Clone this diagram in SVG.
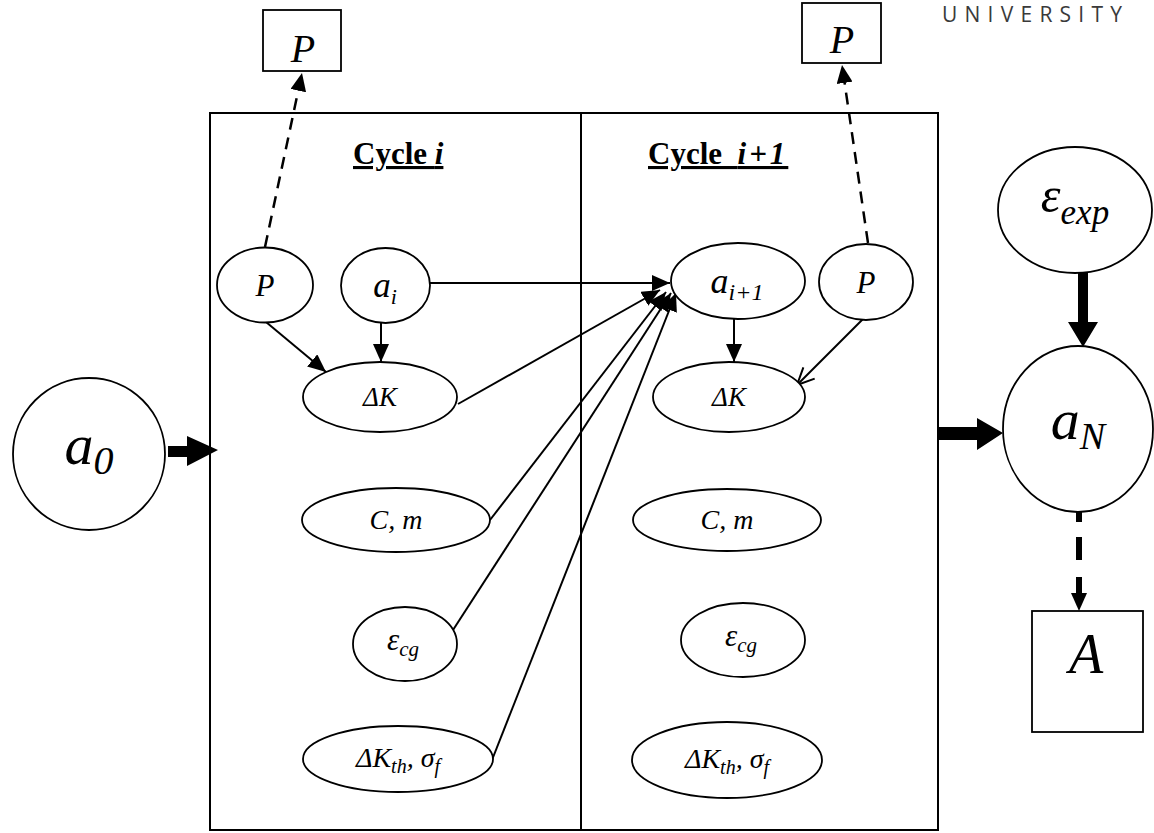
<svg xmlns="http://www.w3.org/2000/svg" width="1154" height="833" viewBox="0 0 1154 833">
<style>
.n{fill:#fff;stroke:#000;stroke-width:1.8}
.t{font-family:"Liberation Serif","Times New Roman",serif;font-style:italic;fill:#000;text-anchor:middle}
.c{stroke:#000;stroke-width:2;fill:none}
.d{stroke:#000;stroke-width:2.5;fill:none;stroke-dasharray:12 8}
.h{font-family:"Liberation Serif","Times New Roman",serif;font-weight:bold;font-size:31px;fill:#000;text-decoration:underline}
</style>
<defs>
<marker id="ar" markerUnits="userSpaceOnUse" markerWidth="20" markerHeight="16" refX="18" refY="8" orient="auto">
<path d="M0,0 L18,8 L0,16 Z" fill="#000"/>
</marker>
<marker id="ard" markerUnits="userSpaceOnUse" markerWidth="20" markerHeight="16" refX="18" refY="8" orient="auto">
<path d="M0,0 L18,8 L0,16 Z" fill="#000"/>
</marker>
<marker id="aro" markerUnits="userSpaceOnUse" markerWidth="20" markerHeight="20" refX="18" refY="10" orient="auto">
<path d="M1,2 L18,10 L1,18" fill="none" stroke="#000" stroke-width="2"/>
</marker>
</defs>
<rect width="1154" height="833" fill="#fff"/>
<text x="942" y="22" font-family="'Open Sans',sans-serif" font-size="21" fill="#3a3a3a" textLength="180" lengthAdjust="spacing">UNIVERSITY</text>

<g id="plate">
<rect x="210" y="113" width="728" height="717" fill="none" stroke="#000" stroke-width="2"/>
<line x1="581" y1="113" x2="581" y2="830" stroke="#000" stroke-width="2"/>
<text class="h" x="353" y="164">Cycle <tspan font-style="italic">i</tspan></text>
<text class="h" x="648" y="164" xml:space="preserve">Cycle  <tspan font-style="italic" letter-spacing="3">i+1</tspan></text>
</g>

<g id="connectors">
<line class="d" x1="265" y1="247" x2="302" y2="73" marker-end="url(#ard)"/>
<line class="d" x1="868" y1="243" x2="842" y2="65" marker-end="url(#ard)"/>
<line class="c" x1="266" y1="322" x2="326" y2="372" marker-end="url(#ar)"/>
<line class="c" x1="381" y1="323" x2="381" y2="362" marker-end="url(#ar)"/>
<line class="c" x1="430" y1="283" x2="670" y2="283" marker-end="url(#ar)"/>
<line class="c" x1="458" y1="404" x2="660" y2="290" marker-end="url(#ar)"/>
<line class="c" x1="490" y1="520" x2="666" y2="292" marker-end="url(#ar)"/>
<line class="c" x1="442" y1="647" x2="671" y2="293" marker-end="url(#ar)"/>
<line class="c" x1="492" y1="760" x2="676" y2="293" marker-end="url(#ar)"/>
<line class="c" x1="734" y1="319" x2="734" y2="362" marker-end="url(#ar)"/>
<line class="c" x1="865" y1="317" x2="797" y2="385" marker-end="url(#aro)"/>
<polygon points="168,446 187,446 187,436 218,450 187,466 187,457 168,457" fill="#000"/>
<polygon points="938,427 977,427 977,418 1003,433 977,450 977,440 938,440" fill="#000"/>
<polygon points="1078,273 1088,273 1088,322 1098,322 1083,347 1068,322 1078,322" fill="#000"/>
<line x1="1079" y1="512" x2="1079" y2="596" stroke="#000" stroke-width="6" stroke-dasharray="10 15 23 17 20"/>
<polygon points="1071,593 1087,593 1079,611" fill="#000"/>
</g>

<g id="n-Ptop1"><rect class="n" x="263" y="10" width="78" height="61"/><text class="t" x="303" y="62" font-size="40">P</text></g>
<g id="n-Ptop2"><rect class="n" x="802" y="3" width="79" height="60"/><text class="t" x="842" y="53" font-size="40">P</text></g>

<g id="n-P1"><ellipse class="n" cx="265" cy="285" rx="48" ry="37.5"/><text class="t" x="265" y="296" font-size="31">P</text></g>
<g id="n-ai"><ellipse class="n" cx="385.5" cy="285.5" rx="44.5" ry="37.5"/><text class="t" x="385" y="297" font-size="35">a<tspan dy="7" font-size="22">i</tspan></text></g>
<g id="n-dK1"><ellipse class="n" cx="380" cy="397" rx="77" ry="35"/><text class="t" x="380" y="406" font-size="27">ΔK</text></g>
<g id="n-Cm1"><ellipse class="n" cx="396" cy="520" rx="94" ry="32"/><text class="t" x="396" y="529" font-size="28">C, m</text></g>
<g id="n-ecg1"><ellipse class="n" cx="405" cy="644" rx="52" ry="37"/><text class="t" x="403" y="650" font-size="31">ε<tspan dy="6" font-size="21">cg</tspan></text></g>
<g id="n-dKth1"><ellipse class="n" cx="398" cy="759" rx="95" ry="33"/><text class="t" x="398" y="767" font-size="28">ΔK<tspan dy="6" font-size="20">th</tspan><tspan dy="-6">, σ</tspan><tspan dy="6" font-size="20">f</tspan></text></g>

<g id="n-ai1"><ellipse class="n" cx="738" cy="281" rx="67" ry="38"/><text class="t" x="737" y="293" font-size="36">a<tspan dy="7" font-size="24">i+1</tspan></text></g>
<g id="n-P2"><ellipse class="n" cx="866" cy="282" rx="47" ry="38"/><text class="t" x="866" y="293" font-size="31">P</text></g>
<g id="n-dK2"><ellipse class="n" cx="729" cy="397" rx="76" ry="35"/><text class="t" x="729" y="406" font-size="27">ΔK</text></g>
<g id="n-Cm2"><ellipse class="n" cx="727" cy="520" rx="94" ry="31"/><text class="t" x="727" y="529" font-size="28">C, m</text></g>
<g id="n-ecg2"><ellipse class="n" cx="743" cy="640" rx="62" ry="37"/><text class="t" x="741" y="646" font-size="31">ε<tspan dy="6" font-size="21">cg</tspan></text></g>
<g id="n-dKth2"><ellipse class="n" cx="727" cy="760" rx="95" ry="38"/><text class="t" x="727" y="768" font-size="28">ΔK<tspan dy="6" font-size="20">th</tspan><tspan dy="-6">, σ</tspan><tspan dy="6" font-size="20">f</tspan></text></g>

<g id="n-a0"><ellipse class="n" cx="89" cy="454" rx="76" ry="76"/><text class="t" x="89" y="464" font-size="58">a<tspan dy="10" font-size="40">0</tspan></text></g>
<g id="n-eexp"><ellipse class="n" cx="1075" cy="210" rx="77" ry="63"/><text class="t" x="1075" y="212" font-size="50">ε<tspan dy="12" font-size="35">exp</tspan></text></g>
<g id="n-aN"><ellipse class="n" cx="1078" cy="429" rx="75" ry="83"/><text class="t" x="1078" y="439" font-size="58">a<tspan dy="10" font-size="38">N</tspan></text></g>
<g id="n-A"><rect class="n" x="1032" y="611" width="111" height="121"/><text class="t" x="1086" y="673" font-size="56">A</text></g>
</svg>
